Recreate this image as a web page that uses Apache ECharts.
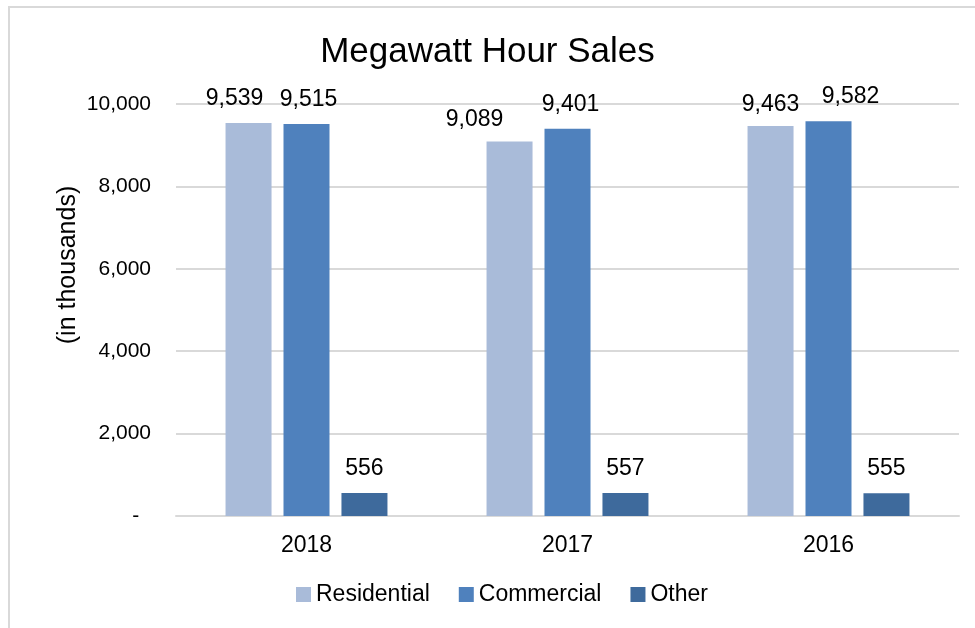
<!DOCTYPE html>
<html>
<head>
<meta charset="utf-8">
<script src="https://cdn.jsdelivr.net/npm/echarts@6/dist/echarts.min.js"></script>
<style>
  html, body { margin: 0; padding: 0; background: #fff; }
  #frame {
    position: absolute; left: 8px; top: 6px; width: 980px; height: 640px;
    border-left: 2px solid #d9d9d9; border-top: 2px solid #d9d9d9;
  }
  #board { position: absolute; left: 0; top: 0; width: 975px; height: 628px; }
</style>
</head>
<body>
<div id="frame"></div>
<div id="board"></div>
<script>
var years = ["2018", "2017", "2016"];
var residential = [9539, 9089, 9463];
var commercial = [9515, 9401, 9582];
var other = [556, 557, 555];
var yTicks = [0, 2000, 4000, 6000, 8000, 10000];

var font = "'Liberation Sans', Arial, sans-serif";

function fmt(v) {
  return v.toLocaleString("en-US");
}

// labels were nudged by hand in the original, keep those shifts
function makeSeries(name, data, color, shifts) {
  return {
    name: name,
    type: "bar",
    data: data.map(function (v, i) {
      return { value: v, label: { offset: shifts ? shifts[i] : [0, 0] } };
    }),
    barWidth: 46,
    barGap: "26%",
    itemStyle: { color: color },
    label: {
      show: true,
      position: "top",
      distance: 13,
      color: "#000",
      fontSize: 23,
      fontFamily: font,
      formatter: function (p) { return fmt(p.value); }
    }
  };
}

var myChart = echarts.init(document.getElementById("board"));
myChart.setOption({
  animation: false,
  textStyle: { fontFamily: font },
  title: {
    text: "Megawatt Hour Sales",
    left: "center",
    top: 30,
    textStyle: { fontSize: 35, fontWeight: "normal", color: "#000", fontFamily: font }
  },
  legend: {
    bottom: 17,
    left: 291,
    itemWidth: 15,
    itemHeight: 15,
    itemGap: 29,
    icon: "rect",
    textStyle: { fontSize: 23, color: "#000", fontFamily: font }
  },
  grid: { left: 176, right: 16, top: 104, bottom: 112 },
  xAxis: {
    type: "category",
    data: years,
    axisTick: { show: false },
    axisLine: { lineStyle: { color: "#d9d9d9", width: 2 } },
    axisLabel: { fontSize: 23, color: "#000", margin: 18, fontFamily: font }
  },
  yAxis: {
    type: "value",
    min: yTicks[0],
    max: yTicks[yTicks.length - 1],
    interval: 2000,
    name: "(in thousands)",
    nameLocation: "middle",
    nameGap: 95,
    nameMoveOverlap: false,
    nameTextStyle: { fontSize: 25, color: "#000", fontFamily: font, padding: [0, 0, 0, 90] },
    axisLine: { show: false },
    axisTick: { show: false },
    splitLine: { lineStyle: { color: "#d9d9d9", width: 2 } },
    axisLabel: {
      fontSize: 21,
      color: "#000",
      margin: 25,
      fontFamily: font,
      formatter: function (v) { return v === 0 ? "-  " : fmt(v); }
    }
  },
  series: [
    makeSeries("Residential", residential, "#a9bbd9", [[-14, 0], [-35, 3], [0, 3]]),
    makeSeries("Commercial", commercial, "#4f81bd", [[2, 0], [3, 0], [22, 0]]),
    makeSeries("Other", other, "#3e6a9c")
  ]
});
</script>
</body>
</html>
